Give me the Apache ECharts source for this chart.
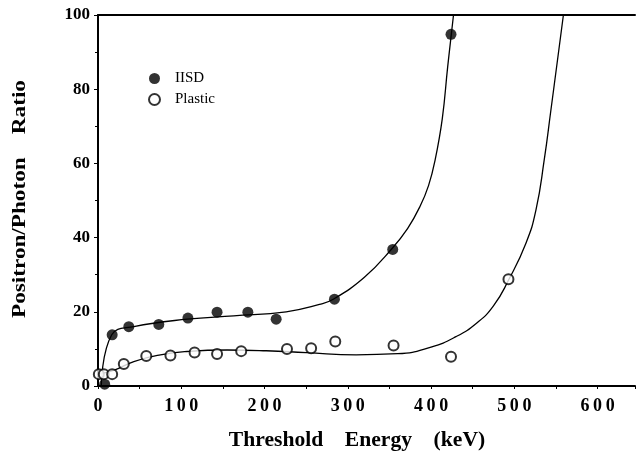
<!DOCTYPE html>
<html>
<head>
<meta charset="utf-8">
<script src="https://cdn.jsdelivr.net/npm/echarts@6/dist/echarts.min.js"></script>
<style>
  html, body { margin: 0; padding: 0; background: #fff; }
  #chart { width: 638px; height: 453px; }
</style>
</head>
<body>
<div id="chart"></div>
<script>
// measured points
const iisdPoints = [
  [8, 0.5], [17, 13.8], [37, 16], [73, 16.6], [108, 18.3], [143, 19.9],
  [180, 19.9], [214, 18], [284, 23.4], [354, 36.8], [424, 94.8]
];
const plasticPoints = [
  [1, 3.2], [7, 3.2], [17, 3.2], [31, 5.9], [58, 8.1], [87, 8.2], [116, 9.0],
  [143, 8.6], [172, 9.4], [227, 10.0], [256, 10.2], [285, 12.0], [355, 10.9],
  [424, 7.9], [493, 28.8]
];

// fitted curves
const iisdCurve = [
  [4, 0.3], [16.5, 13.8], [43, 16], [107, 18], [163, 18.9], [226, 20],
  [266, 22.0], [282, 23.3], [320, 29.3], [353, 37], [372, 42.5],
  [387, 48.5], [397, 54], [405, 61], [413.5, 72], [420, 86], [427, 100]
];
const plasticCurve = [
  [0, 3.2], [19.5, 4.3], [43, 6.6], [75, 8.4], [107, 9.3], [155, 9.7],
  [202, 9.5], [250, 9.0], [310, 8.4], [360, 8.7], [400, 10.5], [430, 13.3],
  [455, 17], [475, 21.6], [493, 28.5], [514, 38.5], [526, 47.4],
  [536, 61], [544, 74.4], [552, 88], [559, 100]
];

const xTicks = [0, 100, 200, 300, 400, 500, 600];

const chart = echarts.init(document.getElementById('chart'));
const serif = '"Liberation Serif", "DejaVu Serif", serif';

chart.setOption({
  animation: false,
  grid: { left: 98, top: 15, right: 0, bottom: 67 },
  legend: {
    data: ['IISD', 'Plastic'],
    orient: 'vertical',
    left: 143,
    top: 66,
    itemWidth: 11,
    itemHeight: 11,
    itemGap: 6,
    textStyle: { fontFamily: serif, fontSize: 15, color: '#000', padding: [0, 0, 0, 10] }
  },
  xAxis: [{
    type: 'value',
    min: 0,
    max: 645,
    interval: 100,
    splitLine: { show: false },
    axisLine: { lineStyle: { color: '#000', width: 2 } },
    axisTick: { length: 3, lineStyle: { color: '#000' } },
    minorTick: { show: true, splitNumber: 2, length: 3, lineStyle: { color: '#000' } },
    axisLabel: {
      margin: 11,
      color: '#000',
      fontFamily: serif,
      fontWeight: 'bold',
      fontSize: 18,
      formatter: v => xTicks.includes(v) ? String(v).split('').join('\u2009') : ''
    }
  }, {
    type: 'value',
    position: 'top',
    min: 0,
    max: 645,
    splitLine: { show: false },
    axisLine: { lineStyle: { color: '#000', width: 2 } },
    axisTick: { show: false },
    axisLabel: { show: false }
  }],
  yAxis: {
    type: 'value',
    min: 0,
    max: 100,
    interval: 20,
    splitLine: { show: false },
    axisLine: { lineStyle: { color: '#000', width: 2 } },
    axisTick: { length: 4, lineStyle: { color: '#000' } },
    minorTick: { show: true, splitNumber: 2, length: 3, lineStyle: { color: '#000' } },
    axisLabel: {
      margin: 8,
      color: '#000',
      fontFamily: serif,
      fontWeight: 'bold',
      fontSize: 17
    }
  },
  graphic: [{
    type: 'text',
    x: 357, y: 441,
    scaleX: 1.08,
    style: {
      text: 'Threshold    Energy    (keV)',
      font: 'bold 20px ' + serif,
      fill: '#000',
      align: 'center',
      verticalAlign: 'middle'
    }
  }, {
    type: 'text',
    x: 20, y: 199,
    rotation: Math.PI / 2,
    scaleX: 1.22,
    style: {
      text: 'Positron/Photon    Ratio',
      font: 'bold 19px ' + serif,
      fill: '#000',
      align: 'center',
      verticalAlign: 'middle'
    }
  }],
  series: [{
    name: 'IISD fit',
    type: 'line',
    data: iisdCurve,
    smooth: 0.45,
    showSymbol: false,
    lineStyle: { color: '#000', width: 1.3 },
    clip: true,
    z: 1
  }, {
    name: 'Plastic fit',
    type: 'line',
    data: plasticCurve,
    smooth: 0.5,
    showSymbol: false,
    lineStyle: { color: '#000', width: 1.3 },
    clip: true,
    z: 1
  }, {
    name: 'IISD',
    type: 'scatter',
    data: iisdPoints,
    symbol: 'circle',
    symbolSize: 11,
    itemStyle: { color: '#000' },
    z: 3
  }, {
    name: 'Plastic',
    type: 'scatter',
    data: plasticPoints,
    symbol: 'circle',
    symbolSize: 10,
    itemStyle: { color: '#fff', borderColor: '#000', borderWidth: 2 },
    z: 3
  }]
});
</script>
</body>
</html>
